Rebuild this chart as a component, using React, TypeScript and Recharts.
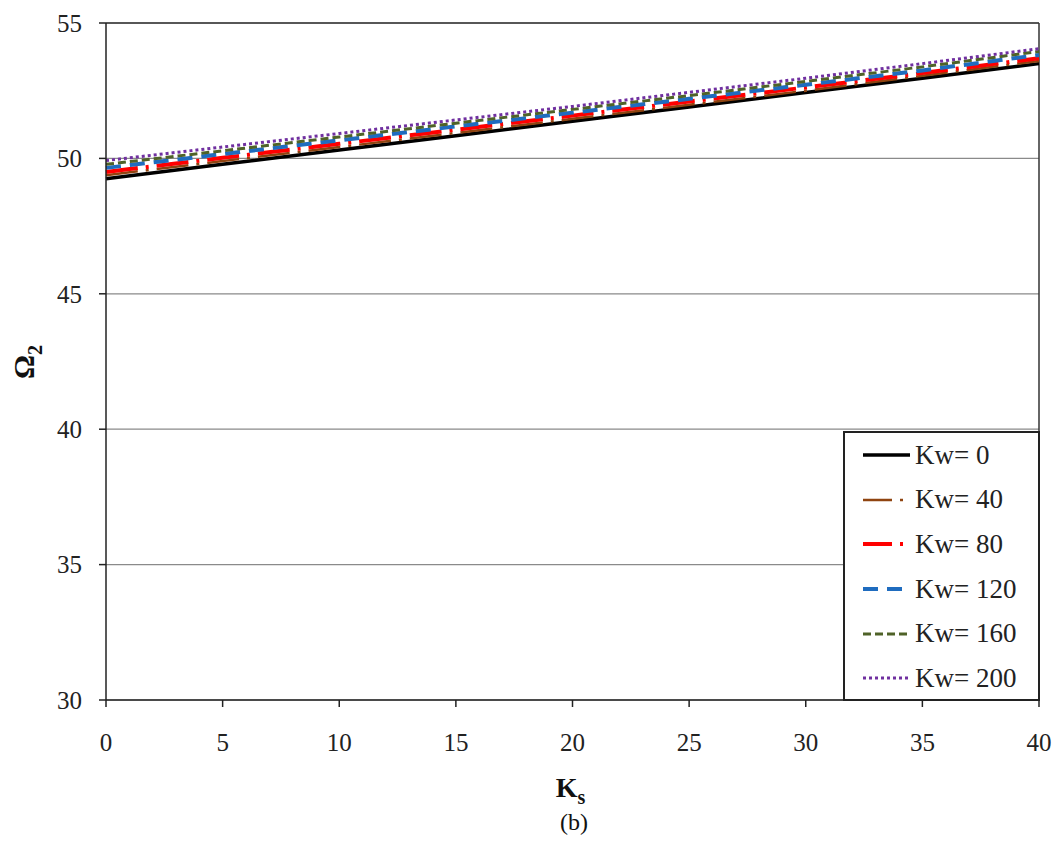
import React from 'react';
import { LineChart, Line, XAxis, YAxis, CartesianGrid, ReferenceLine, Label } from 'recharts';

const ks = [0, 5, 10, 15, 20, 25, 30, 35, 40];
const kw0 = [49.25, 49.78, 50.31, 50.84, 51.37, 51.9, 52.43, 52.96, 53.5];
const kw40 = [49.38, 49.9, 50.42, 50.94, 51.46, 51.98, 52.5, 53.05, 53.6];
const kw80 = [49.5, 50.02, 50.54, 51.06, 51.58, 52.1, 52.62, 53.15, 53.7];
const kw120 = [49.65, 50.16, 50.67, 51.18, 51.69, 52.2, 52.72, 53.25, 53.82];
const kw160 = [49.78, 50.28, 50.79, 51.3, 51.81, 52.32, 52.84, 53.38, 53.95];
const kw200 = [49.92, 50.42, 50.92, 51.42, 51.92, 52.44, 52.96, 53.5, 54.05];
const xTicks = [0, 5, 10, 15, 20, 25, 30, 35, 40];
const yTicks = [30, 35, 40, 45, 50, 55];

const seriesDefs = [
  { key: 'kw0', name: 'Kw= 0', color: '#000000', width: 3.5, dash: undefined as string | undefined, legendDash: undefined as string | undefined },
  { key: 'kw40', name: 'Kw= 40', color: '#8f4410', width: 2.5, dash: '32 8 3 8', legendDash: '29 8 3 8' },
  { key: 'kw80', name: 'Kw= 80', color: '#ff0000', width: 4, dash: '32 8 3 8', legendDash: '29 8 3 8' },
  { key: 'kw120', name: 'Kw= 120', color: '#1f6cbf', width: 4, dash: '15 9', legendDash: '15 9' },
  { key: 'kw160', name: 'Kw= 160', color: '#4f6228', width: 3, dash: '8 4', legendDash: '8 4' },
  { key: 'kw200', name: 'Kw= 200', color: '#7030a0', width: 3, dash: '3 3', legendDash: '3 3' },
];

const data = ks.map((k, i) => ({
  ks: k,
  kw0: kw0[i],
  kw40: kw40[i],
  kw80: kw80[i],
  kw120: kw120[i],
  kw160: kw160[i],
  kw200: kw200[i],
}));

const FONT = 'Liberation Serif';

const LegendBox = () => (
  <div
    style={{
      position: 'absolute',
      left: 843,
      top: 431,
      width: 197,
      height: 270,
      border: '2px solid #222',
      background: '#fff',
      boxSizing: 'border-box',
      paddingTop: 0,
      fontFamily: FONT,
      fontSize: 27,
      color: '#222',
    }}
  >
    {seriesDefs.map((s) => (
      <div key={s.key} style={{ display: 'flex', alignItems: 'center', height: 44.6 }}>
        <svg width={50} height={10} style={{ marginLeft: 16 }}>
          <line x1={2} y1={5} x2={49} y2={5} stroke={s.color} strokeWidth={s.width} strokeDasharray={s.legendDash} />
        </svg>
        <span style={{ marginLeft: 4, whiteSpace: 'nowrap' }}>{s.name}</span>
      </div>
    ))}
  </div>
);

const XLabel = (props: any) => {
  const vb = props.viewBox || {};
  const cx = vb.x + vb.width / 2;
  return (
    <text x={cx - 2} y={797} textAnchor="middle" fontFamily={FONT} fontWeight="bold" fontSize={28} fill="#111">
      K<tspan fontSize={20} dy={7}>s</tspan>
    </text>
  );
};

const YLabel = () => (
  <text
    x={0}
    y={0}
    transform="translate(34,362) rotate(-90)"
    textAnchor="middle"
    fontFamily={FONT}
    fontWeight="bold"
    fontSize={30}
    fill="#111"
  >
    Ω<tspan fontSize={20} dy={8}>2</tspan>
  </text>
);

export default function App() {
  return (
    <div style={{ position: 'absolute', left: 0, top: 0, width: 1058, height: 844, background: '#fff' }}>
      <LineChart width={1058} height={844} data={data} margin={{ top: 23, right: 19, left: 46, bottom: 84 }}>
        <CartesianGrid vertical={false} stroke="#8a8a8a" strokeWidth={1.2} />
        <XAxis
          dataKey="ks"
          type="number"
          domain={[0, 40]}
          ticks={xTicks}
          interval={0}
          height={60}
          stroke="#222"
          strokeWidth={1.5}
          tickSize={7}
          tickMargin={26}
          tick={{ fontFamily: FONT, fontSize: 25, fill: '#222' }}
        >
          <Label content={<XLabel />} />
        </XAxis>
        <YAxis
          type="number"
          domain={[30, 55]}
          ticks={yTicks}
          interval={0}
          width={60}
          stroke="#222"
          strokeWidth={1.5}
          tickSize={7}
          tickMargin={17}
          tick={{ fontFamily: FONT, fontSize: 25, fill: '#222' }}
        >
          <Label content={<YLabel />} />
        </YAxis>
        <ReferenceLine y={55} stroke="#333" strokeWidth={1.5} />
        <ReferenceLine x={40} stroke="#333" strokeWidth={1.5} />
        {seriesDefs.map((s) => (
          <Line
            key={s.key}
            type="linear"
            dataKey={s.key}
            name={s.name}
            stroke={s.color}
            strokeWidth={s.width}
            strokeDasharray={s.dash}
            dot={false}
            activeDot={false}
            isAnimationActive={false}
          />
        ))}
      </LineChart>
      <LegendBox />
      <div
        style={{
          position: 'absolute',
          left: 0,
          width: 1148,
          top: 809,
          textAlign: 'center',
          fontFamily: FONT,
          fontSize: 24,
          color: '#111',
        }}
      >
        (b)
      </div>
    </div>
  );
}
